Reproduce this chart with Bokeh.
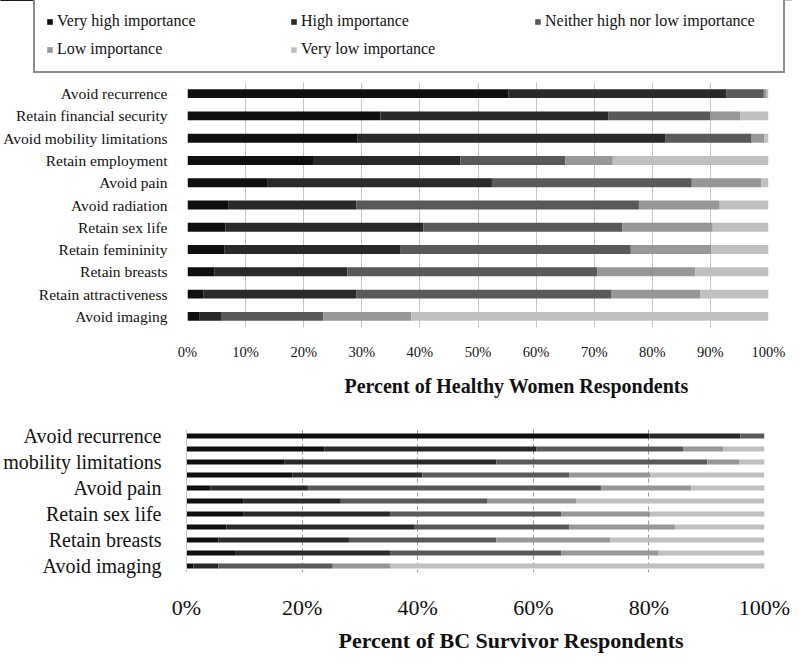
from bokeh.plotting import figure
from bokeh.models import (ColumnDataSource, FactorRange, Range1d, FixedTicker,
                          PrintfTickFormatter, Legend, LegendItem, Title)
from bokeh.layouts import column
from bokeh.embed import file_html
from bokeh.resources import INLINE

# ---------------- data ----------------
categories = ["Avoid recurrence", "Retain financial security", "Avoid mobility limitations",
              "Retain employment", "Avoid pain", "Avoid radiation", "Retain sex life",
              "Retain femininity", "Retain breasts", "Retain attractiveness", "Avoid imaging"]
levels = ["Very high importance", "High importance", "Neither high nor low importance",
          "Low importance", "Very low importance"]

healthy_very_high = [55.2, 33.2, 29.3, 21.6, 13.7, 7.1, 6.5, 6.4, 4.6, 2.7, 2.0]
healthy_high = [37.6, 39.2, 53.0, 25.4, 38.7, 22.0, 34.1, 30.3, 22.9, 26.4, 3.9]
healthy_neither = [6.4, 17.6, 14.8, 18.0, 34.4, 48.6, 34.2, 39.6, 43.0, 43.9, 17.5]
healthy_low = [0.5, 5.1, 2.2, 8.2, 12.0, 13.9, 15.6, 13.8, 16.9, 15.3, 15.1]
healthy_very_low = [0.3, 4.9, 0.7, 26.8, 1.2, 8.4, 9.6, 9.9, 12.6, 11.7, 61.5]

survivor_very_high = [80.1, 23.9, 16.9, 18.3, 4.1, 9.8, 9.8, 6.9, 5.5, 8.4, 1.2]
survivor_high = [15.7, 36.6, 36.7, 22.5, 16.9, 16.9, 25.4, 32.6, 22.6, 26.8, 4.3]
survivor_neither = [4.2, 25.4, 36.5, 25.4, 50.8, 25.4, 29.6, 26.7, 25.5, 29.6, 19.8]
survivor_low = [0.0, 7.0, 5.6, 14.0, 15.5, 15.4, 15.4, 18.3, 19.7, 16.9, 9.9]
survivor_very_low = [0.0, 7.1, 4.3, 19.8, 12.7, 32.5, 19.8, 15.5, 26.7, 18.3, 64.8]

healthy_ticks = [0, 10, 20, 30, 40, 50, 60, 70, 80, 90, 100]
survivor_ticks = [0, 20, 40, 60, 80, 100]
survivor_tick_labels = ["Avoid recurrence", "mobility limitations", "Avoid pain",
                        "Retain sex life", "Retain breasts", "Avoid imaging"]

healthy_title = "Percent of Healthy Women Respondents"
survivor_title = "Percent of BC Survivor Respondents"

# ---------------- styles ----------------
colors = ["#0f0f0f", "#292929", "#595959", "#979797", "#c0c0c0"]
keys = ["vh", "h", "n", "l", "vl"]
SERIF = "Liberation Serif"

positions = list(range(1, len(categories) + 1))
src1 = ColumnDataSource(dict(cat=categories, vh=healthy_very_high, h=healthy_high,
                             n=healthy_neither, l=healthy_low, vl=healthy_very_low))
src2 = ColumnDataSource(dict(pos=positions, vh=survivor_very_high, h=survivor_high,
                             n=survivor_neither, l=survivor_low, vl=survivor_very_low))

# ---------------- legend strip (its own frame; its bars sit outside the view) ----------------
pl = figure(width=792, height=76, x_range=Range1d(0, 100), y_range=Range1d(-3, -2),
            output_backend="svg", toolbar_location=None, min_border=0,
            outline_line_color=None, x_axis_location=None, y_axis_location=None)
pl.frame_align = False
pl.xgrid.visible = False
pl.ygrid.visible = False
rl = pl.hbar_stack(keys, y="pos", height=0.4, fill_color=colors, line_color=None, source=src2)
items = [LegendItem(label=lvl, renderers=[r]) for lvl, r in zip(levels, rl)]
legend = Legend(items=items, orientation="horizontal", ncols=3, location=(33, 3),
                padding=11, spacing=6, glyph_width=7, glyph_height=7, label_standoff=4,
                label_width=227, label_height=22, margin=0,
                border_line_color="#1a1a1a", border_line_width=2,
                background_fill_color="white", background_fill_alpha=1,
                label_text_font=SERIF, label_text_font_size="16px",
                label_text_color="#111111")
pl.add_layout(legend)

# ---------------- healthy women chart ----------------
p1 = figure(width=792, height=330, y_range=FactorRange(factors=categories[::-1]),
            x_range=Range1d(0, 100), output_backend="svg", toolbar_location=None,
            min_border_left=181, min_border_right=24, min_border_top=6,
            min_border_bottom=76, outline_line_color=None)
p1.frame_align = False
p1.hbar_stack(keys, y="cat", height=0.4, fill_color=colors, line_color=None, source=src1)
t1 = FixedTicker(ticks=healthy_ticks)
p1.xaxis.ticker = t1
p1.xgrid.ticker = t1
p1.xaxis.formatter = PrintfTickFormatter(format="%d%%")
p1.xgrid.grid_line_color = "#c4c4c4"
p1.xgrid.grid_line_width = 1
p1.ygrid.visible = False
for ax in (p1.xaxis, p1.yaxis):
    ax.axis_line_color = None
    ax.major_tick_line_color = None
    ax.minor_tick_line_color = None
    ax.major_label_text_font = SERIF
    ax.major_label_text_color = "#111111"
p1.xaxis.major_label_text_font_size = "14.5px"
p1.xaxis.major_label_standoff = 10
p1.yaxis.major_label_text_font_size = "15.5px"
p1.yaxis.major_label_standoff = 14
p1.add_layout(Title(text=healthy_title, align="left", offset=157, text_font=SERIF,
                    text_font_size="20px", text_font_style="bold", text_color="#111111",
                    standoff=20), "below")

# ---------------- BC survivor chart ----------------
p2 = figure(width=792, height=249, y_range=Range1d(len(categories) + 0.5, 0.5),
            x_range=Range1d(0, 100), output_backend="svg", toolbar_location=None,
            min_border_left=178, min_border_right=28, min_border_top=23,
            min_border_bottom=73, outline_line_color=None)
p2.frame_align = False
p2.hbar_stack(keys, y="pos", height=0.37, fill_color=colors, line_color=None, source=src2)
t2 = FixedTicker(ticks=survivor_ticks)
p2.xaxis.ticker = t2
p2.xgrid.ticker = t2
p2.xaxis.formatter = PrintfTickFormatter(format="%d%%")
p2.xgrid.grid_line_color = "#9a9a9a"
p2.xgrid.grid_line_dash = "4 3"
p2.ygrid.visible = False
p2.yaxis.ticker = FixedTicker(ticks=positions[::2])
p2.yaxis.major_label_overrides = dict(zip(positions[::2], survivor_tick_labels))
for ax in (p2.xaxis, p2.yaxis):
    ax.axis_line_color = None
    ax.major_tick_line_color = None
    ax.minor_tick_line_color = None
    ax.major_label_text_font = SERIF
    ax.major_label_text_color = "#111111"
p2.yaxis.axis_line_color = "#c8c8c8"
p2.xaxis.major_label_text_font_size = "22px"
p2.xaxis.major_label_standoff = 16
p2.yaxis.major_label_text_font_size = "20px"
p2.yaxis.major_label_standoff = 19
p2.add_layout(Title(text=survivor_title, align="left", offset=152, text_font=SERIF,
                    text_font_size="22px", text_font_style="bold", text_color="#111111",
                    standoff=6), "below")

layout = column(pl, p1, p2, spacing=0)
open("out.html", "w").write(file_html(layout, INLINE))
